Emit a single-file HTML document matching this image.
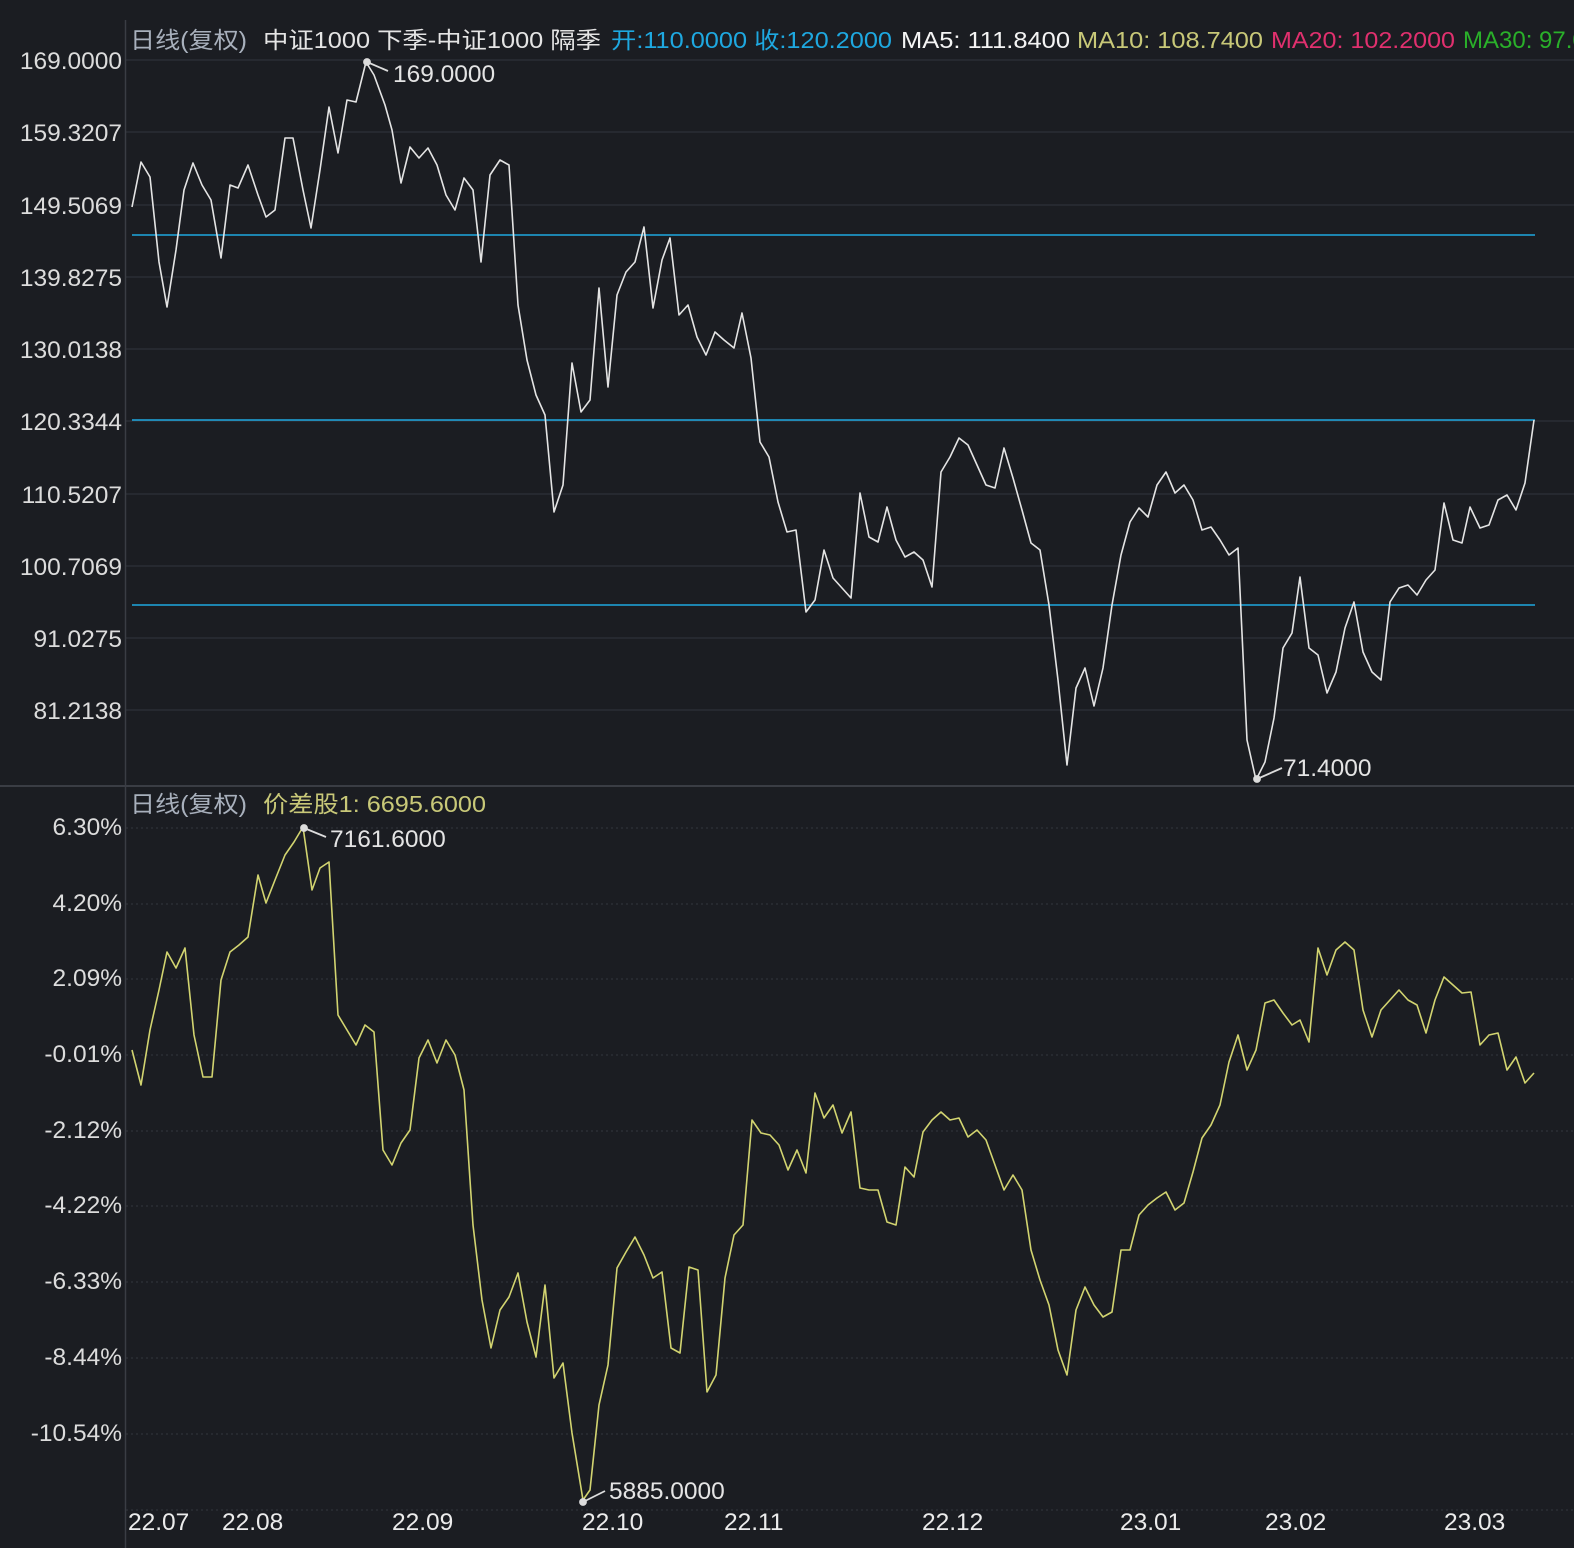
<!DOCTYPE html>
<html><head><meta charset="utf-8"><style>
html,body{margin:0;padding:0;background:#1b1d22;}
svg{display:block;}
text{font-family:"Liberation Sans","Noto Sans CJK SC",sans-serif;}
</style></head><body>
<svg width="1574" height="1548" viewBox="0 0 1574 1548" xmlns="http://www.w3.org/2000/svg">
<rect width="1574" height="1548" fill="#1b1d22"/>
<g stroke="#2e3138" stroke-width="1.2">
<line x1="126" y1="60" x2="1574" y2="60"/><line x1="126" y1="132" x2="1574" y2="132"/>
<line x1="126" y1="205" x2="1574" y2="205"/><line x1="126" y1="277" x2="1574" y2="277"/>
<line x1="126" y1="349" x2="1574" y2="349"/><line x1="126" y1="421" x2="1574" y2="421"/>
<line x1="126" y1="494" x2="1574" y2="494"/><line x1="126" y1="566" x2="1574" y2="566"/>
<line x1="126" y1="638" x2="1574" y2="638"/><line x1="126" y1="710" x2="1574" y2="710"/>
</g>
<g stroke="#33363d" stroke-width="1" stroke-dasharray="2,3">
<line x1="126" y1="828" x2="1574" y2="828"/><line x1="126" y1="904" x2="1574" y2="904"/>
<line x1="126" y1="979" x2="1574" y2="979"/><line x1="126" y1="1055" x2="1574" y2="1055"/>
<line x1="126" y1="1131" x2="1574" y2="1131"/><line x1="126" y1="1206" x2="1574" y2="1206"/>
<line x1="126" y1="1282" x2="1574" y2="1282"/><line x1="126" y1="1358" x2="1574" y2="1358"/>
<line x1="126" y1="1434" x2="1574" y2="1434"/><line x1="126" y1="1510" x2="1574" y2="1510"/>
</g>
<line x1="0" y1="786" x2="1574" y2="786" stroke="#3a3d44" stroke-width="2"/>
<line x1="125.5" y1="20" x2="125.5" y2="1548" stroke="#3a3d44" stroke-width="1.5"/>
<g stroke="#1ea8e0" stroke-width="1.6">
<line x1="132" y1="235" x2="1535" y2="235"/><line x1="132" y1="420" x2="1535" y2="420"/><line x1="132" y1="605" x2="1535" y2="605"/>
</g>
<polyline fill="none" stroke="#e4e4e4" stroke-width="1.6" stroke-linejoin="round" points="132,207 141,162 150,177 159,262 167,307 176,250 184,190 193,163 202,185 211,200 221,258 230,185 238,188 248,165 258,195 266,217 275,210 285,138 293,138 303,190 311,228 320,170 329,107 338,153 347,100 356,102 366,62 374,75 385,105 392,130 401,183 410,147 419,158 428,148 437,165 446,195 455,210 464,178 473,190 481,262 490,175 500,160 509,165 518,305 527,360 536,395 545,415 554,512 563,485 572,363 581,412 590,400 599,288 608,387 617,295 626,272 635,262 644,227 653,308 662,260 670,238 679,315 688,305 697,337 706,355 715,332 724,340 734,348 742,313 751,358 760,442 769,457 778,502 787,532 796,530 806,612 815,600 824,550 833,578 851,598 860,493 869,537 878,542 887,507 896,540 905,557 914,552 923,560 932,587 941,472 950,457 959,438 968,445 977,465 986,485 995,488 1004,448 1013,478 1022,510 1031,543 1040,550 1049,605 1058,680 1067,765 1076,688 1085,668 1094,706 1103,668 1112,605 1121,555 1130,522 1139,508 1148,517 1157,485 1166,472 1175,493 1184,485 1193,500 1202,530 1211,527 1220,540 1229,555 1238,548 1247,740 1256,780 1265,762 1274,718 1283,648 1292,633 1300,577 1309,648 1318,655 1327,693 1336,672 1345,628 1354,602 1363,652 1372,672 1381,680 1390,602 1399,588 1408,585 1417,595 1426,580 1435,570 1444,503 1453,540 1462,543 1470,507 1480,528 1489,525 1498,500 1507,495 1516,510 1525,483 1534,420"/>
<polyline fill="none" stroke="#d2d470" stroke-width="1.6" stroke-linejoin="round" points="132,1050 141,1085 150,1030 159,990 167,952 176,968 185,948 194,1035 203,1077 212,1077 221,980 230,952 239,945 248,937 258,875 266,903 275,880 285,855 294,842 303,827 312,890 320,868 329,862 338,1015 347,1030 356,1045 365,1025 374,1032 383,1150 392,1165 401,1143 410,1130 419,1058 428,1040 437,1063 446,1040 455,1055 464,1090 473,1225 482,1300 491,1348 500,1310 509,1297 518,1273 527,1322 536,1357 545,1285 554,1378 563,1363 572,1433 583,1500 590,1490 599,1405 608,1365 617,1268 626,1252 635,1237 644,1255 653,1278 662,1272 671,1348 680,1353 689,1267 698,1270 707,1392 716,1375 725,1278 734,1235 743,1225 752,1120 761,1133 770,1135 779,1145 788,1170 797,1150 806,1173 815,1093 824,1118 833,1105 842,1133 851,1112 860,1188 869,1190 878,1190 887,1222 896,1225 905,1167 914,1177 923,1132 932,1120 941,1112 950,1120 959,1118 968,1137 977,1130 986,1140 995,1165 1004,1190 1013,1175 1022,1190 1031,1250 1040,1280 1049,1305 1058,1350 1067,1375 1076,1310 1085,1287 1094,1305 1103,1317 1112,1312 1121,1250 1130,1250 1139,1215 1148,1205 1157,1198 1166,1192 1175,1210 1184,1203 1193,1172 1202,1138 1211,1125 1220,1105 1229,1062 1238,1035 1247,1070 1256,1050 1265,1003 1274,1000 1283,1013 1292,1025 1300,1020 1309,1042 1318,948 1327,975 1336,950 1345,942 1354,950 1363,1010 1372,1037 1381,1010 1390,1000 1399,990 1408,1000 1417,1005 1426,1033 1435,1000 1444,977 1453,985 1462,993 1471,992 1480,1045 1489,1035 1498,1033 1507,1070 1516,1057 1525,1083 1534,1073"/>
<g stroke="#dcdcdc" stroke-width="1.8" fill="#dcdcdc">
<circle cx="367" cy="62" r="3"/><line x1="367" y1="62" x2="388" y2="71"/>
<circle cx="1257" cy="779" r="3"/><line x1="1257" y1="779" x2="1282" y2="768"/>
<circle cx="304" cy="828" r="3"/><line x1="304" y1="828" x2="326" y2="837"/>
<circle cx="583" cy="1502" r="3"/><line x1="583" y1="1502" x2="605" y2="1491"/>
</g>
<g fill="#e4e4e4" font-size="24.5">
<text x="393" y="82">169.0000</text>
<text x="1283" y="776">71.4000</text>
<text x="330" y="847">7161.6000</text>
<text x="609" y="1499">5885.0000</text>
</g>
<g fill="#dcdcdc" font-size="24.5" text-anchor="end">
<text x="122" y="69">169.0000</text><text x="122" y="141">159.3207</text>
<text x="122" y="214">149.5069</text><text x="122" y="286">139.8275</text>
<text x="122" y="358">130.0138</text><text x="122" y="430">120.3344</text>
<text x="122" y="503">110.5207</text><text x="122" y="575">100.7069</text>
<text x="122" y="647">91.0275</text><text x="122" y="719">81.2138</text>
<text x="122" y="835">6.30%</text><text x="122" y="911">4.20%</text>
<text x="122" y="986">2.09%</text><text x="122" y="1062">-0.01%</text>
<text x="122" y="1138">-2.12%</text><text x="122" y="1213">-4.22%</text>
<text x="122" y="1289">-6.33%</text><text x="122" y="1365">-8.44%</text>
<text x="122" y="1441">-10.54%</text>
</g>
<g fill="#ececec" font-size="24.5">
<text x="128" y="1530">22.07</text><text x="222" y="1530">22.08</text>
<text x="392" y="1530">22.09</text><text x="582" y="1530">22.10</text>
<text x="724" y="1530">22.11</text><text x="922" y="1530">22.12</text>
<text x="1120" y="1530">23.01</text><text x="1265" y="1530">23.02</text>
<text x="1444" y="1530">23.03</text>
</g>
<g font-size="23">
<text x="130" y="48" fill="#a8b0bc" textLength="117" lengthAdjust="spacingAndGlyphs">日线(复权)</text>
<text x="263" y="48" fill="#e4e4e4" textLength="338" lengthAdjust="spacingAndGlyphs">中证1000 下季-中证1000 隔季</text>
<text x="611" y="48" fill="#1ea8e0" textLength="281" lengthAdjust="spacingAndGlyphs">开:110.0000 收:120.2000</text>
<text x="901" y="48" fill="#f4f4f4" textLength="169" lengthAdjust="spacingAndGlyphs">MA5: 111.8400</text>
<text x="1077" y="48" fill="#c8c878" textLength="186" lengthAdjust="spacingAndGlyphs">MA10: 108.7400</text>
<text x="1271" y="48" fill="#e0306e" textLength="184" lengthAdjust="spacingAndGlyphs">MA20: 102.2000</text>
<text x="1463" y="48" fill="#2ab02a" font-size="24">MA30: 97.0000</text>
<text x="130" y="812" fill="#a8b0bc" textLength="117" lengthAdjust="spacingAndGlyphs">日线(复权)</text>
<text x="263" y="812" fill="#c8c878" textLength="223" lengthAdjust="spacingAndGlyphs">价差股1: 6695.6000</text>
</g>
</svg>
</body></html>
